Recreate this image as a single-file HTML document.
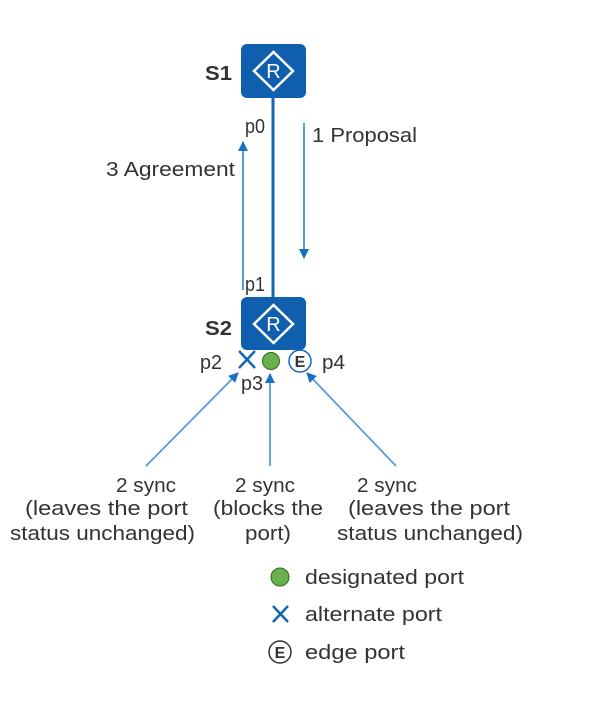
<!DOCTYPE html>
<html><head><meta charset="utf-8"><style>
html,body{margin:0;padding:0;background:#fff;}
svg{display:block;}
text{font-family:"Liberation Sans",Arial,sans-serif;fill:#333;}
</style></head><body>
<svg width="610" height="716" viewBox="0 0 610 716" xmlns="http://www.w3.org/2000/svg">
<defs>
<marker id="ah" markerWidth="10" markerHeight="10" refX="9" refY="5" orient="auto" markerUnits="userSpaceOnUse">
<path d="M0,0 L10,5 L0,10 z" fill="#1a6fc0"/>
</marker>
</defs>
<line x1="273" y1="98" x2="273" y2="298" stroke="#1565b5" stroke-width="3"/>
<rect x="241" y="44" width="65" height="54" rx="6" fill="#0f5fae"/>
<path d="M273.5,52 L293,71 L273.5,90 L254,71 z" fill="none" stroke="#fff" stroke-width="2.5"/>
<text x="273.5" y="78" font-size="20" text-anchor="middle" style="fill:#fff">R</text>
<text x="205" y="80" font-size="20" font-weight="bold" textLength="27" lengthAdjust="spacingAndGlyphs">S1</text>
<rect x="241" y="297" width="65" height="53" rx="6" fill="#0f5fae"/>
<path d="M273.5,305 L293,324 L273.5,343 L254,324 z" fill="none" stroke="#fff" stroke-width="2.5"/>
<text x="273.5" y="331" font-size="20" text-anchor="middle" style="fill:#fff">R</text>
<text x="205" y="335" font-size="20" font-weight="bold" textLength="27" lengthAdjust="spacingAndGlyphs">S2</text>
<g font-size="20">
<text x="245" y="133" textLength="20" lengthAdjust="spacingAndGlyphs">p0</text>
<text x="245" y="291" textLength="20" lengthAdjust="spacingAndGlyphs">p1</text>
<text x="312" y="142" textLength="105" lengthAdjust="spacingAndGlyphs">1 Proposal</text>
<text x="106" y="176" textLength="129" lengthAdjust="spacingAndGlyphs">3 Agreement</text>
</g>
<line x1="243" y1="290" x2="243" y2="142" stroke="#5b9bd5" stroke-width="2" marker-end="url(#ah)"/>
<line x1="304" y1="123" x2="304" y2="258" stroke="#5b9bd5" stroke-width="2" marker-end="url(#ah)"/>
<path d="M239,351 L255,368 M255,351 L239,368" stroke="#1565b5" stroke-width="2.5"/>
<circle cx="271" cy="361" r="8.5" fill="#6ab04c" stroke="#2e6a1e" stroke-width="1"/>
<circle cx="300" cy="361" r="11" fill="#fff" stroke="#1565b5" stroke-width="1.5"/>
<text x="300" y="367" font-size="16" font-weight="bold" text-anchor="middle">E</text>
<g font-size="20">
<text x="200" y="369" textLength="22" lengthAdjust="spacingAndGlyphs">p2</text>
<text x="241" y="390" textLength="22" lengthAdjust="spacingAndGlyphs">p3</text>
<text x="322" y="369" textLength="23" lengthAdjust="spacingAndGlyphs">p4</text>
</g>
<line x1="146" y1="466" x2="238" y2="373" stroke="#5b9bd5" stroke-width="1.8" marker-end="url(#ah)"/>
<line x1="270" y1="466" x2="270" y2="374" stroke="#5b9bd5" stroke-width="1.8" marker-end="url(#ah)"/>
<line x1="396" y1="466" x2="307" y2="373" stroke="#5b9bd5" stroke-width="1.8" marker-end="url(#ah)"/>
<g font-size="20">
<text x="116" y="492" textLength="60" lengthAdjust="spacingAndGlyphs">2 sync</text>
<text x="25" y="515" textLength="163" lengthAdjust="spacingAndGlyphs">(leaves the port</text>
<text x="10" y="540" textLength="185" lengthAdjust="spacingAndGlyphs">status unchanged)</text>
<text x="235" y="492" textLength="60" lengthAdjust="spacingAndGlyphs">2 sync</text>
<text x="213" y="515" textLength="110" lengthAdjust="spacingAndGlyphs">(blocks the</text>
<text x="245" y="540" textLength="46" lengthAdjust="spacingAndGlyphs">port)</text>
<text x="357" y="492" textLength="60" lengthAdjust="spacingAndGlyphs">2 sync</text>
<text x="348" y="515" textLength="162" lengthAdjust="spacingAndGlyphs">(leaves the port</text>
<text x="337" y="540" textLength="186" lengthAdjust="spacingAndGlyphs">status unchanged)</text>
</g>
<circle cx="280" cy="577" r="9" fill="#6ab04c" stroke="#2e6a1e" stroke-width="1"/>
<path d="M273,606 L288,622 M288,606 L273,622" stroke="#1565b5" stroke-width="2.5"/>
<circle cx="280" cy="652" r="11" fill="#fff" stroke="#333" stroke-width="1.5"/>
<text x="280" y="658" font-size="16" font-weight="bold" text-anchor="middle">E</text>
<g font-size="20">
<text x="305" y="584" textLength="159" lengthAdjust="spacingAndGlyphs">designated port</text>
<text x="305" y="621" textLength="137" lengthAdjust="spacingAndGlyphs">alternate port</text>
<text x="305" y="659" textLength="100" lengthAdjust="spacingAndGlyphs">edge port</text>
</g>
</svg>
</body></html>
